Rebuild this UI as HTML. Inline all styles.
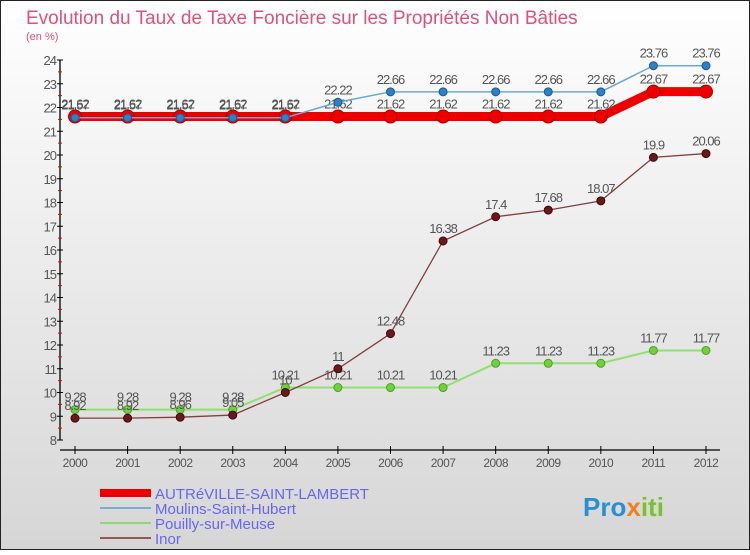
<!DOCTYPE html>
<html><head><meta charset="utf-8"><style>
body{margin:0}
#c{width:750px;height:550px;position:relative;font-family:"Liberation Sans",sans-serif}
</style></head><body>
<div id="c">
<svg id="s" width="750" height="550" xmlns="http://www.w3.org/2000/svg">
<defs><linearGradient id="bg" x1="0" y1="0" x2="0" y2="1"><stop offset="0" stop-color="#ffffff"/><stop offset="1" stop-color="#d6d6d6"/></linearGradient></defs>
<rect x="0.5" y="0.5" width="749" height="549" fill="url(#bg)" stroke="#222"/>
<text x="26" y="24" font-size="19" fill="#e0507a">Evolution du Taux de Taxe Foncière sur les Propriétés Non Bâties</text>
<text x="26" y="40" font-size="11" fill="#e0507a">(en %)</text>
<g id="axes"></g><g id="series"></g>
<g>
<rect x="100" y="489" width="51" height="8" fill="#e00"/>
<text x="155" y="499" font-size="15" fill="#6666ee">AUTRéVILLE-SAINT-LAMBERT</text>
<line x1="100" y1="508" x2="151" y2="508" stroke="#7aaed0" stroke-width="2"/>
<text x="155" y="514" font-size="15" fill="#6666ee">Moulins-Saint-Hubert</text>
<line x1="100" y1="523" x2="151" y2="523" stroke="#8fd870" stroke-width="2"/>
<text x="155" y="529" font-size="15" fill="#6666ee">Pouilly-sur-Meuse</text>
<line x1="100" y1="538" x2="151" y2="538" stroke="#905858" stroke-width="2"/>
<text x="155" y="544" font-size="15" fill="#6666ee">Inor</text>
</g>
<text x="583" y="516" font-size="26" font-weight="bold" fill="#2a8fd0">Pro<tspan fill="#f08020">x</tspan><tspan fill="#7cc030">iti</tspan></text>
</svg></div>
<script>
const years=[2000,2001,2002,2003,2004,2005,2006,2007,2008,2009,2010,2011,2012];
const autreville=[21.62,21.62,21.62,21.62,21.62,21.62,21.62,21.62,21.62,21.62,21.62,22.67,22.67];
const moulins=[21.57,21.57,21.57,21.57,21.57,22.22,22.66,22.66,22.66,22.66,22.66,23.76,23.76];
const pouilly=[9.28,9.28,9.28,9.28,10.21,10.21,10.21,10.21,11.23,11.23,11.23,11.77,11.77];
const inor=[8.92,8.92,8.96,9.05,10,11,12.48,16.38,17.4,17.68,18.07,19.9,20.06];
const yTicks=[8,9,10,11,12,13,14,15,16,17,18,19,20,21,22,23,24];
const NS="http://www.w3.org/2000/svg";
const X=i=>75+i*(706-75)/(years.length-1);
const Y=v=>440-(v-8)*(380/16);
function mk(tag,attrs,parent,txt){const e=document.createElementNS(NS,tag);for(const k in attrs)e.setAttribute(k,attrs[k]);if(txt!==undefined)e.textContent=txt;parent.appendChild(e);return e;}
const ax=document.getElementById('axes');
let a=mk('line',{x1:60,y1:Y(24),x2:60,y2:Y(8),stroke:'#000','stroke-width':1.3},ax);


a=mk('line',{x1:60,y1:450,x2:720,y2:450,stroke:'#000','stroke-width':1.3},ax);


yTicks.forEach(v=>{
 mk('line',{x1:57,y1:Y(v),x2:63,y2:Y(v),stroke:'#000'},ax);
 if(v<24)mk('line',{x1:58,y1:Y(v+0.5),x2:62,y2:Y(v+0.5),stroke:'#e00'},ax);
 const t=mk('text',{x:56,y:Y(v)+5,'font-size':13,fill:'#555','text-anchor':'end','letter-spacing':'-1'},ax,String(v));
 
 
});
years.forEach((yr,i)=>{
 mk('line',{x1:X(i),y1:446,x2:X(i),y2:454,stroke:'#000'},ax);
 const t=mk('text',{x:X(i),y:467,'font-size':12,fill:'#555','text-anchor':'middle','letter-spacing':'-0.5'},ax,String(yr));
 
 
});
const sg=document.getElementById('series');
function series(name,vals,color,w,r,dot,dotStroke,labelDy){
 const g=mk('g',{},sg);
 
 
 mk('polyline',{points:vals.map((v,i)=>X(i)+','+Y(v)).join(' '),fill:'none',stroke:color,'stroke-width':w},g);
 vals.forEach((v,i)=>{
  const c=mk('circle',{cx:X(i),cy:Y(v),r:r,fill:dot,stroke:dotStroke,'stroke-width':1},g);
  
  
  const t=mk('text',{x:X(i),y:Y(v)+labelDy,'font-size':13,fill:'#555','text-anchor':'middle','letter-spacing':'-1'},g,String(v));
  
  
 });
}
series('autreville',autreville,'#ee0000',9,6.5,'#ee0000','#b00000',-8);
series('moulins',moulins,'#6aa8d8',1.5,4,'#2f80c8','#1a5a90',-8);
series('pouilly',pouilly,'#90e070',2,4,'#70d040','#50a020',-8);
series('inor',inor,'#804040',1.3,4,'#6a1818','#400808',-8);
</script>
</body></html>
